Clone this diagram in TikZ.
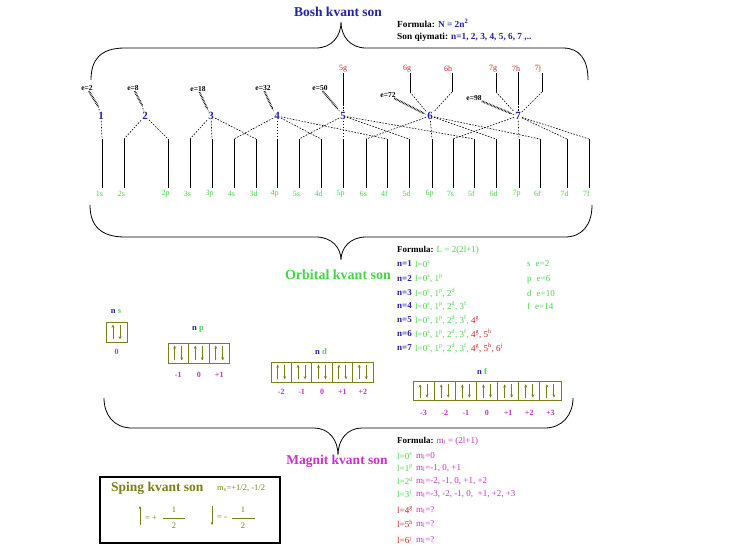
\documentclass[tikz,border=0pt]{standalone}
\usepackage{fontspec}
\setmainfont{Liberation Serif}
\usetikzlibrary{arrows.meta}
\definecolor{navy}{RGB}{35,35,165}
\definecolor{grn}{RGB}{70,215,70}
\definecolor{rd}{RGB}{205,35,35}
\definecolor{mag}{RGB}{200,50,200}
\definecolor{olv}{RGB}{125,125,25}
\newcommand\fsz[1]{\fontsize{#1}{#1}\selectfont}
\newcommand\osup[1]{\textsuperscript{#1}}
\tikzset{
 numn/.style={text=navy,font=\bfseries\fsz{11},inner sep=1pt},
 elab/.style={font=\bfseries\fsz{7.5},inner sep=0.5pt},
 orb/.style={text=grn,font=\fsz{8},inner sep=0.5pt},
 hig/.style={text=rd,font=\fsz{8},inner sep=0.5pt},
 hatch/.style={line width=2pt,dash pattern=on 0.6pt off 0.9pt},
 dsh/.style={line width=0.6pt,dash pattern=on 1.6pt off 1.4pt},
 sol/.style={line width=0.7pt},
 brace/.style={line width=0.8pt},
 txt/.style={anchor=west,inner sep=0pt,font=\fsz{9}},
 cell/.style={draw=olv,line width=0.8pt,inner sep=0pt},
 arr/.style={olv,line width=0.9pt,-{Stealth[length=3.2pt,width=2.8pt]}},
 mlab/.style={text=mag,font=\bfseries\fsz{8},inner sep=0.5pt},
}
\newcommand\orbcells[6]{%
 \foreach \i in {1,...,#4}{
   \node[cell,minimum width=#5pt,minimum height=#6pt] (#1\i) at ({#2+#5*(\i-0.5)},#3) {};
   \draw[arr] ([xshift=-3.5pt,yshift=3pt]#1\i.south) -- ([xshift=-3.5pt,yshift=-3pt]#1\i.north);
   \draw[arr] ([xshift=3.5pt,yshift=-3pt]#1\i.north) -- ([xshift=3.5pt,yshift=3pt]#1\i.south);
 }}
\begin{document}
\begin{tikzpicture}[x=1pt,y=-1pt]
\fill[white] (0,0) rectangle (742,554);
\useasboundingbox (0,0) rectangle (742,554);

% ---------- Bosh kvant son ----------
\node[text=navy,font=\bfseries\fsz{13.5}] (bosh) at (338,12) {Bosh kvant son};
\coordinate (tip1) at (341,22);
\draw[brace] (91,80) .. controls (91,60) and (100,48) .. (125,48) -- (316,48)
  .. controls (332,48) and (341,36) .. (tip1)
  .. controls (341,36) and (350,48) .. (366,48) -- (563,48)
  .. controls (580,48) and (588,60) .. (588,80);
\node[txt,font=\fsz{9.3}] (f1) at (397,23) {\textbf{Formula:} \textcolor{navy}{\textbf{N = 2n\osup{2}}}};
\node[txt,font=\fsz{9.3}] (f2) at (397,37) {\textbf{Son qiymati:} \textcolor{navy}{\textbf{n=1, 2, 3, 4, 5, 6, 7 ,..}}};

% ---------- principal numbers ----------
\foreach \n/\x in {1/101,2/145,3/211,4/277,5/343,6/430,7/518}
  \node[numn] (n\n) at (\x,116) {\n};

% e labels with hatched leaders
\foreach \k/\t/\ex/\ey/\hx/\hy in {1/e=2/87/88/98/106, 2/e=8/133/88/142/105, 3/e=18/198/89/207/108,
   4/e=32/263/88/272/108, 5/e=50/320/88/337/108, 6/e=72/388/95/423/113, 7/e=98/474/98/510/113}{
  \node[elab] (e\k) at (\ex,\ey) {\t};
  \coordinate (h\k) at (\hx,\hy);
  \draw[hatch] (e\k) -- (h\k);
  \draw[dsh] (h\k) -- (n\k);
}

% upper (hypothetical) sublevels
\foreach \o/\n/\lx/\kx/\ky in {5g/5/343/343/104, 6g/6/407/410/92, 6h/6/448/452/92,
   7g/7/493/496/92, 7h/7/516/518/103, 7j/7/538/542/92}{
  \node[hig] (g\o) at (\lx,69) {\o};
  \coordinate (k\o) at (\kx,\ky);
  \draw[sol] (g\o.south -| k\o) -- (k\o);
  \draw[dsh] (k\o) -- (n\n);
}

% sublevels
\foreach \o/\x/\n in {1s/102/1, 2s/124/2, 2p/168/2, 3s/190/3, 3p/212/3, 4s/234/4, 3d/256/3,
   4p/277/4, 5s/299/5, 4d/321/4, 5p/343/5, 6s/366/6, 4f/387/4, 5d/409/5, 6p/432/6,
   7s/453/7, 5f/474/5, 6d/496/6, 7p/519/7, 6f/540/6, 7d/567/7, 7f/589/7}{
  \coordinate (t\o) at (\x,139);
  \coordinate (b\o) at (\x,188);
  \node[orb] (l\o) at (\x-2.5,194) {\o};
  \draw[dsh] (n\n) -- (t\o);
  \draw[sol] (t\o) -- (b\o);
}

% ---------- Orbital kvant son ----------
\coordinate (tip2) at (341,260);
\draw[brace] (90,205) .. controls (90,225) and (100,237) .. (125,237) -- (316,237)
  .. controls (332,237) and (341,248) .. (tip2)
  .. controls (341,248) and (350,237) .. (366,237) -- (565,237)
  .. controls (582,237) and (592,225) .. (592,205);
\node[text=grn,font=\bfseries\fsz{14}] (orbt) at (338,275) {Orbital kvant son};

\node[txt] (of) at (397,250) {\textbf{Formula:} \textcolor{grn}{L = 2(2l+1)}};
\foreach \n/\y/\v in {
  1/264/{l=0\osup{s}},
  2/279/{l=0\osup{s}, 1\osup{p}},
  3/293/{l=0\osup{s}, 1\osup{p}, 2\osup{d}},
  4/306/{l=0\osup{s}, 1\osup{p}, 2\osup{d}, 3\osup{f}},
  5/320/{l=0\osup{s}, 1\osup{p}, 2\osup{d}, 3\osup{f}, \textcolor{rd}{4\osup{g}}},
  6/334/{l=0\osup{s}, 1\osup{p}, 2\osup{d}, 3\osup{f}, \textcolor{rd}{4\osup{g}, 5\osup{h}}},
  7/348/{l=0\osup{s}, 1\osup{p}, 2\osup{d}, 3\osup{f}, \textcolor{rd}{4\osup{g}, 5\osup{h}, 6\osup{j}}}}{
  \node[txt,text=navy,font=\bfseries\fsz{9}] (on\n) at (397,\y) {n=\n};
  \node[txt,text=grn] (ov\n) at (415,\y) {\v};
}
\foreach \k/\y/\t in {s/264/{s\hspace{5pt}e=2}, p/279/{p\hspace{5pt}e=6}, d/293/{d\hspace{5pt}e=10}, f/306/{f\hspace{5pt}e=14}}
  \node[txt,text=grn] (oc\k) at (527,\y) {\t};

% orbital boxes
\node[font=\bfseries\fsz{8.5},inner sep=0pt] (lns) at (116,312) {\textcolor{navy}{n} \textcolor{grn}{s}};
\orbcells{s}{106}{332}{1}{21}{20}
\node[mlab] (sv1) at (116.5,352) {0};

\node[font=\bfseries\fsz{8.5},inner sep=0pt] (lnp) at (198,329) {\textcolor{navy}{n} \textcolor{grn}{p}};
\orbcells{p}{168}{353}{3}{20.5}{20}
\foreach \v [count=\i] in {-1,0,+1}
  \node[mlab] (pv\i) at ({168+20.5*(\i-0.5)},375) {\v};

\node[font=\bfseries\fsz{8.5},inner sep=0pt] (lnd) at (321,352) {\textcolor{navy}{n} \textcolor{grn}{d}};
\orbcells{d}{271}{372}{5}{20.4}{20}
\foreach \v [count=\i] in {-2,-1,0,+1,+2}
  \node[mlab] (dv\i) at ({271+20.4*(\i-0.5)},392) {\v};

\node[font=\bfseries\fsz{8.5},inner sep=0pt] (lnf) at (482,372) {\textcolor{navy}{n} \textcolor{grn}{f}};
\orbcells{f}{413}{391}{7}{21.14}{18.5}
\foreach \v [count=\i] in {-3,-2,-1,0,+1,+2,+3}
  \node[mlab] (fv\i) at ({413+21.14*(\i-0.5)},413) {\v};

% ---------- Magnit kvant son ----------
\coordinate (tip3) at (338,455);
\draw[brace] (104,398) .. controls (104,415) and (114,428) .. (132,428) -- (314,428)
  .. controls (329,428) and (338,440) .. (tip3)
  .. controls (338,440) and (347,428) .. (362,428) -- (545,428)
  .. controls (562,428) and (573,415) .. (573,398);
\node[text=mag,font=\bfseries\fsz{13.5}] (magt) at (337,461) {Magnit kvant son};

\node[txt] (mf) at (397,441) {\textbf{Formula:} \textcolor{mag}{m\textsubscript{l} = (2l+1)}};
\foreach \k/\y/\c/\l/\m in {
  0/456/grn/{l=0\osup{s}}/{m\textsubscript{l}=0},
  1/468/grn/{l=1\osup{p}}/{m\textsubscript{l}=-1, 0, +1},
  2/481/grn/{l=2\osup{d}}/{m\textsubscript{l}=-2, -1, 0, +1, +2},
  3/494/grn/{l=3\osup{f}}/{m\textsubscript{l}=-3, -2, -1, 0, \ +1, +2, +3},
  4/510/rd/{l=4\osup{g}}/{m\textsubscript{l}=?},
  5/524/rd/{l=5\osup{h}}/{m\textsubscript{l}=?},
  6/540/rd/{l=6\osup{j}}/{m\textsubscript{l}=?}}{
  \node[txt,text=\c] (ml\k) at (397,\y) {\l};
  \node[txt,text=mag] (mv\k) at (416,\y) {\m};
}

% ---------- Sping kvant son ----------
\node[draw,line width=1.2pt,minimum width=180pt,minimum height=66pt,inner sep=0pt] (spbox) at (190,510) {};
\node[text=olv,font=\bfseries\fsz{13.5},anchor=west,inner sep=0pt] (spt) at (111,488) {Sping kvant son};
\node[text=olv,font=\fsz{8.5},anchor=west,inner sep=0pt] (sps) at (217,488) {m\textsubscript{s}=+1/2, -1/2};
\coordinate (ua1) at (140,525);
\coordinate (ua2) at (140,506);
\draw[arr] (ua1) -- (ua2);
\node[text=olv,font=\fsz{8.5},anchor=west,inner sep=0pt] (eq1) at (145,518) {= +};
\node[text=olv,font=\fsz{8.5},inner sep=0pt] (n1a) at (174,510) {1};
\node[text=olv,font=\fsz{8.5},inner sep=0pt] (d1a) at (174,526) {2};
\draw[olv,line width=0.6pt] (163,518) -- (185,518);
\coordinate (da1) at (212,506);
\coordinate (da2) at (212,525);
\draw[arr] (da1) -- (da2);
\node[text=olv,font=\fsz{8.5},anchor=west,inner sep=0pt] (eq2) at (217,518) {= -};
\node[text=olv,font=\fsz{8.5},inner sep=0pt] (n2a) at (243,510) {1};
\node[text=olv,font=\fsz{8.5},inner sep=0pt] (d2a) at (243,526) {2};
\draw[olv,line width=0.6pt] (232,518) -- (255,518);
\end{tikzpicture}
\end{document}
